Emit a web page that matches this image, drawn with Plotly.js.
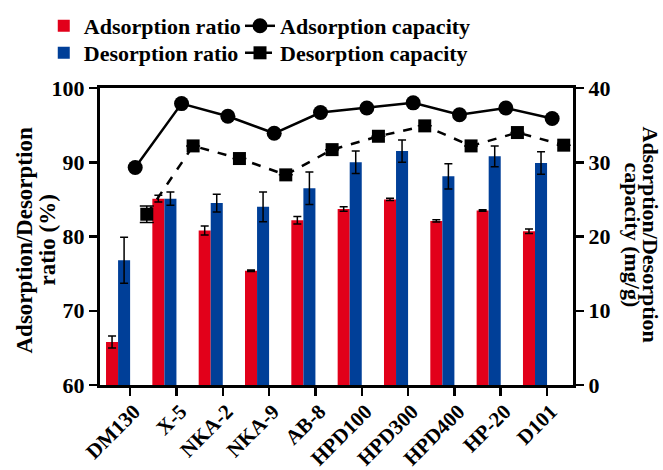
<!DOCTYPE html>
<html>
<head>
<meta charset="utf-8">
<script src="https://cdn.plot.ly/plotly-3.0.1.min.js"></script>
<style>html,body{margin:0;padding:0;background:#fff;}#chart{width:663px;height:470px;}</style>
</head>
<body>
<div id="chart"></div>
<script>
const categories = ['DM130','X-5','NKA-2','NKA-9','AB-8','HPD100','HPD300','HPD400','HP-20','D101'];
const adsRatio    = [65.8, 85.1, 80.8, 75.4, 82.2, 83.7, 85.0, 82.1, 83.5, 80.7];
const adsRatioErr = [0.8, 0.45, 0.6, 0.1, 0.5, 0.3, 0.15, 0.15, 0.1, 0.3];
const desRatio    = [76.8, 85.1, 84.5, 84.0, 86.5, 90.0, 91.5, 88.1, 90.8, 89.9];
const desRatioErr = [3.1, 0.9, 1.2, 2.0, 2.2, 1.5, 1.5, 1.7, 1.4, 1.5];
const adsCap      = [29.3, 37.9, 36.2, 33.9, 36.7, 37.3, 38.0, 36.4, 37.3, 35.9];
const desCap      = [23.0, 32.2, 30.5, 28.3, 31.7, 33.5, 34.9, 32.2, 34.0, 32.3];
const desCapErr   = [1.1, 0, 0, 0, 0, 0, 0, 0, 0, 0];
const leftTitle  = ['Adsorption/Desorption', 'ratio (%)'];
const rightTitle = ['Adsorption/Desorption', 'capacity (mg/g)'];

const idx = categories.map((c, i) => i);
const FONT = 'Liberation Serif, Times New Roman, serif';
const RED = '#e2001a', BLUE = '#003f98';

const traces = [
  {type:'bar', name:'Adsorption ratio', x: idx.map(i => i - 0.39), y: adsRatio, width: 0.26,
   marker:{color: RED}, legend:'legend',
   error_y:{type:'data', array: adsRatioErr, visible:true, color:'#000', thickness:1.5, width:4}},
  {type:'bar', name:'Desorption ratio', x: idx.map(i => i - 0.13), y: desRatio, width: 0.26,
   marker:{color: BLUE}, legend:'legend3',
   error_y:{type:'data', array: desRatioErr, visible:true, color:'#000', thickness:1.5, width:4}},
  {type:'scatter', mode:'lines+markers', name:'Adsorption capacity', x: idx.map(i => i + 0.11), y: adsCap,
   yaxis:'y2', legend:'legend2',
   line:{color:'#000', width:2.5}, marker:{symbol:'circle', size:15, color:'#000'}},
  {type:'scatter', mode:'lines+markers', name:'Desorption capacity', x: idx.map(i => i + 0.36), y: desCap,
   yaxis:'y2', legend:'legend4',
   line:{color:'#000', width:2.5, dash:'dash'}, marker:{symbol:'square', size:13, color:'#000'},
   error_y:{type:'data', array: desCapErr, visible:true, color:'#000', thickness:1.5, width:7}}
];

const tickFont = {family: FONT, size: 22, color:'#000', weight:'bold'};
const legFont = {family: FONT, size:22, color:'#000', weight:'bold'};
const titleFont = {family: FONT, size:23, color:'#000', weight:'bold'};
function leg(x, y) {
  return {xref:'container', yref:'container', x: x, y: y, xanchor:'left', yanchor:'middle',
          orientation:'v', bgcolor:'rgba(0,0,0,0)', font: legFont};
}
function vtitle(text, xpx, ypx, angle, size) {
  return {xref:'paper', yref:'paper', x: (xpx - 100) / 473, y: (384 - ypx) / 296,
          xanchor:'center', yanchor:'middle',
          text: text, textangle: angle, showarrow:false,
          font: Object.assign({}, titleFont, {size: size})};
}
const layout = {
  width: 663, height: 470,
  margin: {l:100, r:90, t:88, b:85, autoexpand:false},
  paper_bgcolor:'#fff', plot_bgcolor:'#fff',
  barmode:'overlay',
  showlegend: true,
  font: {family: FONT, color:'#000'},
  xaxis: {
    type:'linear', range:[-0.65, 9.56], tickmode:'array', tickvals: idx, ticktext: categories,
    tickangle:-45, tickfont: {family: FONT, size: 21, color:'#000', weight:'bold'},
    ticklabelshift: 4, ticklabelstandoff: -5,
    ticks:'outside', ticklen:8, tickwidth:2.5, tickcolor:'#000',
    showline:true, linewidth:3, linecolor:'#000', mirror:true,
    showgrid:false, zeroline:false
  },
  yaxis: {
    range:[60,100], tickvals:[60,70,80,90,100], ticks:'outside', ticklen:8, tickwidth:2.5, tickcolor:'#000',
    tickfont: tickFont, showline:true, linewidth:3, linecolor:'#000',
    showgrid:false, zeroline:false
  },
  yaxis2: {
    overlaying:'y', side:'right', range:[0,40], tickvals:[0,10,20,30,40],
    ticks:'outside', ticklen:8, tickwidth:2.5, tickcolor:'#000',
    tickfont: tickFont,
    showline:true, linewidth:3, linecolor:'#000', showgrid:false, zeroline:false
  },
  legend:  leg(0.066, 1 - 26/470),
  legend2: leg(0.362, 1 - 26/470),
  legend3: leg(0.066, 1 - 53/470),
  legend4: leg(0.362, 1 - 53/470),
  annotations: [
    vtitle(leftTitle[0], 25, 240, -90, 23),
    vtitle(leftTitle[1], 48, 240, -90, 23),
    vtitle(rightTitle[0], 651, 234, 90, 22),
    vtitle(rightTitle[1], 633, 234, 90, 22)
  ]
};

Plotly.newPlot('chart', traces, layout, {displayModeBar:false, staticPlot:true});
</script>
</body>
</html>
